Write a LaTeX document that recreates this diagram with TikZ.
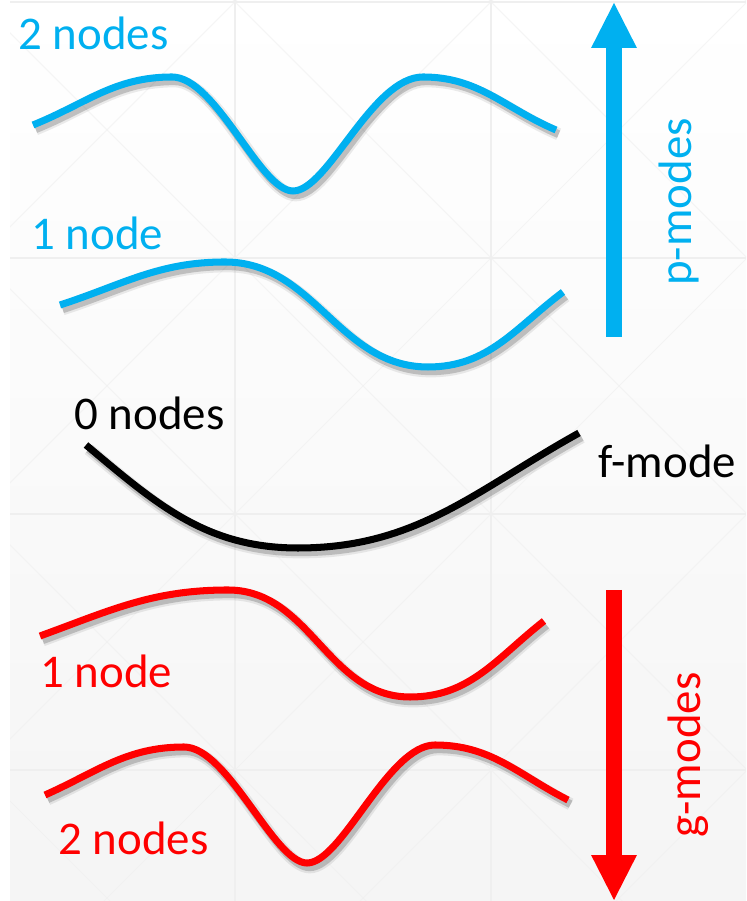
\documentclass[tikz,border=0pt]{standalone}
\usepackage{fontspec}
\setmainfont{Carlito}
\usepackage{tikz}
\usetikzlibrary{arrows.meta}
\definecolor{pcol}{RGB}{0,176,240}
\definecolor{gcol}{RGB}{255,0,0}
\definecolor{gridc}{RGB}{239,239,239}
\tikzset{
  lbl/.style={inner sep=0pt,font=\fontsize{26.7}{32}\selectfont},
  wave/.style={line width=4pt,
    preaction={draw=black,draw opacity=.08,line width=7pt,transform canvas={shift={(1.5pt,-2.4pt)}}},
    preaction={draw=black,draw opacity=.18,line width=4.5pt,transform canvas={shift={(1.5pt,-2.4pt)}}}},
  modear/.style={line width=9pt,-{Triangle[length=25.5pt,width=26pt,line width=0pt]}},
  gridln/.style={gridc,line width=0.6pt},
}
\begin{document}
\begin{tikzpicture}[x=0.02cm,y=0.02cm]
  \useasboundingbox (0,0) rectangle (746,901);
  % backdrop with faint grid
  \shade[top color=white,bottom color=black!4] (10,0) rectangle (746,901);
  \begin{scope}
    \clip (10,0) rectangle (746,901);
    \foreach \x in {235,491} {\draw[gridln] (\x,0)--(\x,901);}
    \foreach \y in {131,387,643,899} {\draw[gridln] (10,\y)--(746,\y);}
    \foreach \c in {-920,-664,...,616} {\draw[gridln,opacity=.6] (\c,0)--(\c+901,901);}
    \foreach \d in {110,366,...,1646} {\draw[gridln,opacity=.6] (\d,0)--(\d-901,901);}
  \end{scope}
  % p-modes
  \draw[wave,pcol] (33,776) to[out=22,in=180] (172,824)
    .. controls (216,824) and (260,710) .. (293,710)
    .. controls (328,710) and (372,824) .. (423,824)
    to[out=0,in=157] (556,771);
  \draw[wave,pcol] (60,596) to[out=18,in=180] (225,639) to[out=0,in=180] (428,534)
    to[out=0,in=217] (563,609);
  % f-mode
  \draw[wave,black] (86,456) to[out=-40,in=180] (298,353) to[out=0,in=209] (579,468);
  % g-modes
  \draw[wave,gcol] (40,265) to[out=20,in=180] (228,311) to[out=0,in=180] (410,204)
    to[out=0,in=218] (544,280);
  \draw[wave,gcol] (45,106) to[out=24,in=180] (184,154)
    .. controls (228,154) and (274,38) .. (307,38)
    .. controls (342,38) and (388,156) .. (435,156)
    to[out=0,in=153] (568,101);
  % labels
  \node[lbl,pcol,anchor=base west] (ptwo) at (18,851) {2 nodes};
  \node[lbl,pcol,anchor=base west] (pone) at (31,651) {1 node};
  \node[lbl,anchor=base west] (fzero) at (74,471) {0 nodes};
  \node[lbl,anchor=base west] (fname) at (598,423) {f-mode};
  \node[lbl,gcol,anchor=base west] (gone) at (40,213) {1 node};
  \node[lbl,gcol,anchor=base west] (gtwo) at (58,46) {2 nodes};
  \node[lbl,pcol,rotate=90,anchor=base] (pname) at (691,699) {p-modes};
  \node[lbl,gcol,rotate=90,anchor=base] (gname) at (700,146) {g-modes};
  % arrows
  \coordinate (pbot) at (614,564);
  \coordinate (ptop) at (614,898);
  \draw[modear,pcol] (pbot) -- (ptop);
  \coordinate (gtop) at (614,311);
  \coordinate (gbot) at (614,1);
  \draw[modear,gcol] (gtop) -- (gbot);
\end{tikzpicture}
\end{document}
